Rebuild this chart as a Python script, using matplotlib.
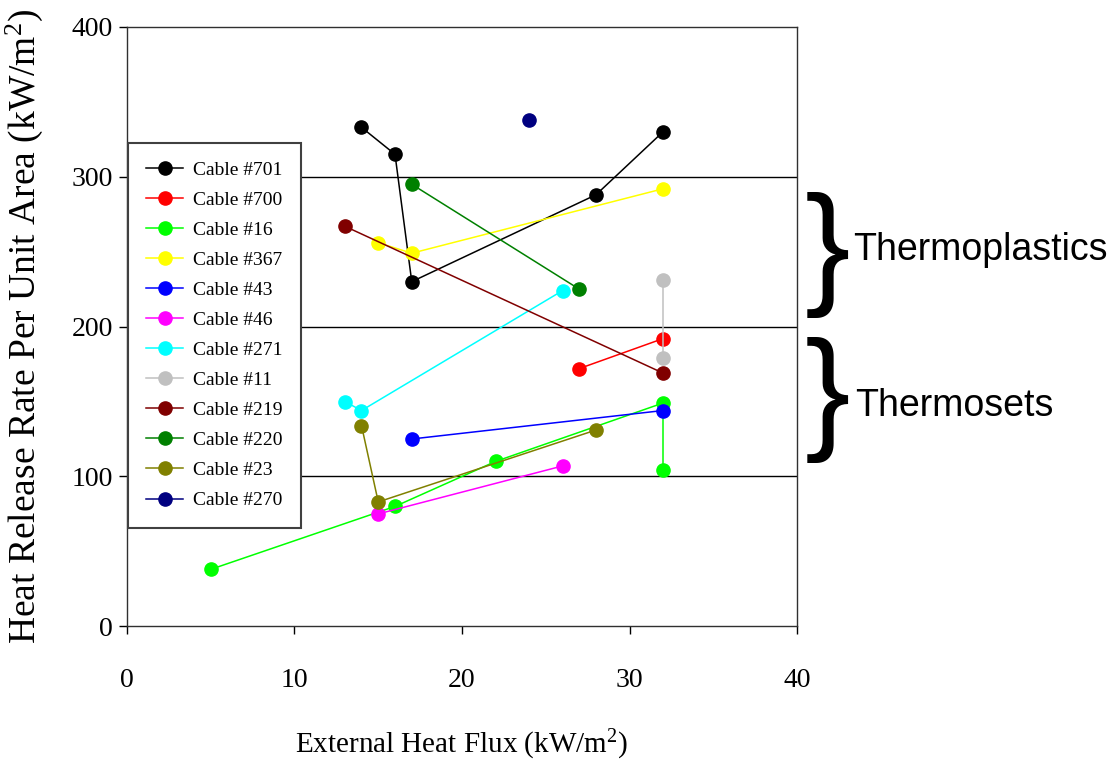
import numpy as np
import matplotlib.pyplot as plt

# data (kW/m2)
x701 = [14, 16, 17, 28, 32]
y701 = [333, 315, 230, 288, 330]
x700 = [27, 32]
y700 = [172, 192]
x16 = [5, 16, 22, 32, 32]
y16 = [38, 80, 110, 149, 104]
x367 = [15, 17, 32]
y367 = [256, 249, 292]
x43 = [17, 32]
y43 = [125, 144]
x46 = [15, 26]
y46 = [75, 107]
x271 = [13, 14, 26]
y271 = [150, 144, 224]
x11 = [32, 32]
y11 = [231, 179]
x219 = [13, 32]
y219 = [267, 169]
x220 = [17, 27]
y220 = [295, 225]
x23 = [14, 15, 28]
y23 = [134, 83, 131]
x270 = [24]
y270 = [338]

series = [
    ('Cable #701', x701, y701, '#000000'),
    ('Cable #700', x700, y700, '#FF0000'),
    ('Cable #16', x16, y16, '#00FF00'),
    ('Cable #367', x367, y367, '#FFFF00'),
    ('Cable #43', x43, y43, '#0000FF'),
    ('Cable #46', x46, y46, '#FF00FF'),
    ('Cable #271', x271, y271, '#00FFFF'),
    ('Cable #11', x11, y11, '#C0C0C0'),
    ('Cable #219', x219, y219, '#800000'),
    ('Cable #220', x220, y220, '#008000'),
    ('Cable #23', x23, y23, '#808000'),
    ('Cable #270', x270, y270, '#000080'),
]

serif = 'Liberation Serif'
sans = 'Liberation Sans'
plt.rcParams['mathtext.fontset'] = 'custom'
plt.rcParams['mathtext.rm'] = serif
plt.rcParams['mathtext.it'] = serif + ':italic'

fig = plt.figure(figsize=(11.15, 7.66), dpi=100)
ax = fig.add_axes([0.1139, 0.1824, 0.6009, 0.7824])

for lab, xs, ys, c in series:
    ax.plot(xs, ys, '-o', color=c, lw=1.1, ms=9.5, mec=c, label=lab)

for yy in [100, 200, 300]:
    ax.axhline(yy, color='black', lw=1.0, zorder=0)

ax.set_xlim(0, 40)
ax.set_ylim(0, 400)
ax.set_xticks(np.arange(0, 41, 10))
ax.set_yticks(np.arange(0, 401, 100))
ax.tick_params(axis='both', direction='out', length=6, width=1, labelsize=20)
ax.tick_params(axis='x', pad=24)
ax.tick_params(axis='y', pad=4)
for t in ax.get_xticklabels() + ax.get_yticklabels():
    t.set_fontfamily(serif)
for s in ax.spines.values():
    s.set_color('#303030')
    s.set_linewidth(1.0)

ax.set_xlabel(r'External Heat Flux (kW/m$^\mathrm{2}$)', fontsize=21, family=serif)
ax.set_ylabel(r'Heat Release Rate Per Unit Area (kW/m$^\mathrm{2}$)', fontsize=27, family=serif)
ax.xaxis.set_label_coords(0.5, -0.17)
ax.yaxis.set_label_coords(-0.122, 0.5)

leg = ax.legend(loc='upper left', bbox_to_anchor=(0.0015, 0.807), borderaxespad=0,
                prop={'family': serif, 'size': 14}, handlelength=1.9,
                handletextpad=0.5, labelspacing=0.64, borderpad=0.95,
                fancybox=False, framealpha=1, edgecolor='#404040')
leg.get_frame().set_linewidth(1.5)

# group braces and labels to the right of the plot
fig.text(0.722, 0.667, '}', fontsize=98, family=sans, va='center', ha='left')
fig.text(0.722, 0.478, '}', fontsize=98, family=sans, va='center', ha='left')
fig.text(0.765, 0.673, 'Thermoplastics', fontsize=27, family=sans, va='center', ha='left')
fig.text(0.767, 0.470, 'Thermosets', fontsize=27, family=sans, va='center', ha='left')

fig.savefig('out.png', dpi=100)
